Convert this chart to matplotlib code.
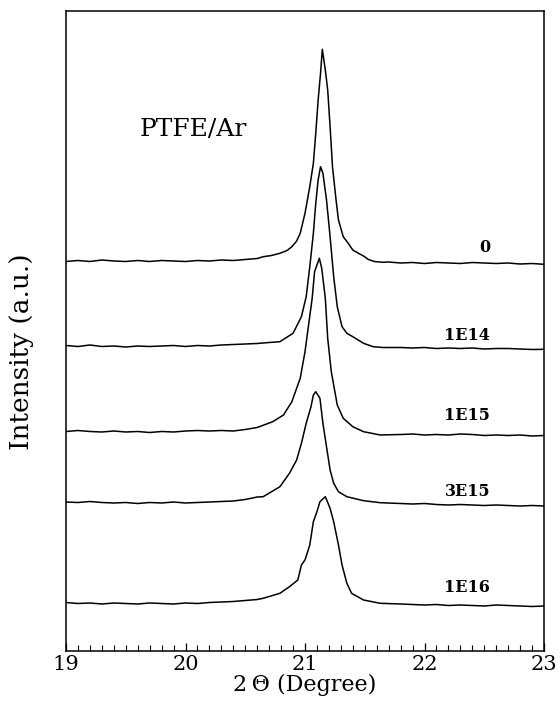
import matplotlib
matplotlib.use("Agg")
import matplotlib.pyplot as plt
from matplotlib.ticker import MultipleLocator

# ---- data (2-theta in degrees, intensity in arbitrary offset units) ----
x_0 = [19.0, 19.1, 19.2, 19.3, 19.4, 19.5, 19.6, 19.7, 19.8, 19.9, 20.0, 20.1, 20.2, 20.3, 20.4, 20.5,
       20.6, 20.65, 20.72, 20.79, 20.85, 20.89, 20.93, 20.96, 21.00, 21.04, 21.07, 21.09, 21.11, 21.13,
       21.145, 21.17, 21.19, 21.21, 21.23, 21.26, 21.28, 21.32, 21.36, 21.40, 21.45, 21.49, 21.53, 21.58,
       21.65, 21.7, 21.8, 21.9, 22.0, 22.1, 22.2, 22.3, 22.4, 22.5, 22.6, 22.7, 22.8, 22.9, 23.0]
y_0 = [389.5, 390.5, 389.5, 391.0, 390.0, 389.5, 390.5, 389.5, 390.5, 390.0, 389.5, 390.5, 390.0, 391.0,
       390.5, 391.5, 392.5, 394.3, 395.5, 397.7, 400.5, 404.3, 410.0, 417.7, 437.7, 464.3, 487.7, 517.7,
       551.0, 577.7, 601.7, 581.0, 561.0, 524.3, 484.3, 451.0, 431.0, 414.3, 408.0, 401.0, 397.5, 395.0,
       391.5, 389.5, 388.7, 389.0, 388.0, 388.5, 387.5, 388.5, 388.0, 387.5, 388.5, 388.0, 387.5, 388.0,
       387.0, 387.5, 386.7]

x_1e14 = [19.0, 19.1, 19.2, 19.3, 19.4, 19.5, 19.6, 19.7, 19.8, 19.9, 20.0, 20.1, 20.2, 20.3, 20.4, 20.5,
          20.6, 20.7, 20.79, 20.9, 20.97, 21.01, 21.04, 21.07, 21.09, 21.11, 21.13, 21.15, 21.18, 21.21,
          21.24, 21.27, 21.31, 21.35, 21.40, 21.49, 21.57, 21.65, 21.8, 21.9, 22.0, 22.1, 22.2, 22.3, 22.4,
          22.5, 22.6, 22.7, 22.8, 22.9, 23.0]
y_1e14 = [305.5, 304.5, 306.0, 304.5, 305.0, 304.0, 305.0, 304.5, 305.0, 305.5, 304.5, 305.5, 305.0, 306.0,
          306.5, 307.0, 307.5, 308.5, 309.3, 317.7, 334.3, 354.3, 384.3, 417.7, 447.7, 471.0, 484.3, 477.7,
          451.0, 414.3, 374.3, 344.3, 324.3, 317.7, 314.3, 307.7, 304.3, 303.5, 303.5, 303.0, 303.5, 302.5,
          303.0, 302.5, 303.0, 302.0, 302.5, 302.5, 302.0, 301.5, 301.7]

x_1e15 = [19.0, 19.1, 19.2, 19.3, 19.4, 19.5, 19.6, 19.7, 19.8, 19.9, 20.0, 20.1, 20.2, 20.3, 20.4, 20.5,
          20.6, 20.73, 20.82, 20.89, 20.96, 21.00, 21.03, 21.06, 21.08, 21.12, 21.14, 21.17, 21.19, 21.22,
          21.27, 21.32, 21.40, 21.49, 21.63, 21.8, 21.9, 22.0, 22.1, 22.2, 22.3, 22.4, 22.5, 22.6, 22.7,
          22.8, 22.9, 23.0]
y_1e15 = [219.5, 220.5, 219.5, 219.0, 220.0, 219.0, 219.5, 218.5, 219.5, 219.0, 220.0, 220.5, 220.0, 220.5,
          220.0, 221.5, 223.5, 229.3, 236.0, 249.3, 272.7, 299.3, 326.0, 352.7, 379.3, 392.7, 382.7, 352.7,
          312.7, 279.3, 246.0, 232.7, 224.3, 219.3, 216.0, 216.5, 217.0, 216.0, 216.5, 216.0, 217.0, 216.5,
          215.5, 216.0, 215.5, 216.0, 215.0, 215.5]

x_3e15 = [19.0, 19.1, 19.2, 19.3, 19.4, 19.5, 19.6, 19.7, 19.8, 19.9, 20.0, 20.1, 20.2, 20.3, 20.4, 20.5,
          20.6, 20.65, 20.79, 20.87, 20.93, 20.97, 21.01, 21.05, 21.07, 21.09, 21.125, 21.15, 21.18, 21.21,
          21.24, 21.28, 21.35, 21.49, 21.63, 21.8, 21.9, 22.0, 22.1, 22.2, 22.3, 22.4, 22.5, 22.6, 22.7,
          22.8, 22.9, 23.0]
y_3e15 = [149.0, 148.5, 149.5, 148.5, 148.0, 148.5, 147.5, 148.5, 148.0, 149.0, 148.0, 148.5, 149.0, 149.5,
          150.0, 151.5, 154.0, 154.3, 164.3, 177.7, 191.0, 207.7, 227.7, 244.3, 256.0, 259.3, 252.7, 227.7,
          204.3, 181.0, 167.7, 159.3, 154.3, 150.3, 148.3, 147.5, 147.0, 147.5, 146.5, 146.0, 146.5, 146.0,
          145.5, 146.0, 145.5, 145.0, 145.5, 145.0]

x_1e16 = [19.0, 19.1, 19.2, 19.3, 19.4, 19.5, 19.6, 19.7, 19.8, 19.9, 20.0, 20.1, 20.2, 20.3, 20.4, 20.5,
          20.6, 20.65, 20.79, 20.87, 20.94, 20.97, 21.00, 21.04, 21.07, 21.10, 21.125, 21.17, 21.21, 21.24,
          21.28, 21.31, 21.35, 21.39, 21.49, 21.63, 21.8, 21.9, 22.0, 22.1, 22.2, 22.3, 22.4, 22.5, 22.6,
          22.7, 22.8, 22.9, 23.0]
y_1e16 = [48.5, 47.5, 48.0, 47.0, 48.0, 47.5, 47.0, 48.0, 47.5, 47.0, 48.0, 47.5, 48.5, 49.0, 49.5, 50.5,
          51.5, 52.7, 57.7, 64.3, 71.0, 86.0, 91.0, 106.0, 129.3, 139.3, 149.3, 154.3, 142.7, 129.3, 106.0,
          86.0, 67.7, 57.7, 51.0, 47.7, 47.0, 46.5, 46.0, 46.5, 45.5, 46.0, 45.5, 45.0, 46.0, 45.5, 45.0,
          44.5, 45.0]

labels = ["0", "1E14", "1E15", "3E15", "1E16"]
label_y = [404, 316, 235, 159, 64]
xticks = [19, 20, 21, 22, 23]

# ---- figure ----
fig = plt.figure(figsize=(5.6, 7.11), dpi=100)
ax = fig.add_axes([66 / 560, 60 / 711, 478 / 560, 640 / 711])

series_x = [x_0, x_1e14, x_1e15, x_3e15, x_1e16]
series_y = [y_0, y_1e14, y_1e15, y_3e15, y_1e16]
for xs, ys in zip(series_x, series_y):
    ax.plot(xs, ys, color="black", lw=1.1)

for lab, ly in zip(labels, label_y):
    ax.text(22.55, ly, lab, ha="right", va="center", fontsize=11.5,
            fontweight="bold", family="DejaVu Serif")

ax.text(19.62, 521, "PTFE/Ar", ha="left", va="center", fontsize=18, family="DejaVu Serif")

ax.set_xlim(19, 23)
ax.set_ylim(0, 640)
ax.set_xticks(xticks)
ax.set_xticklabels([str(t) for t in xticks], family="DejaVu Serif", fontsize=15)
ax.xaxis.set_minor_locator(MultipleLocator(0.1))
ax.tick_params(axis="x", which="major", direction="in", length=6, width=0.9, pad=3, top=False)
ax.tick_params(axis="x", which="minor", direction="in", length=4, width=0.8, top=False)
ax.set_yticks([])
for s in ax.spines.values():
    s.set_linewidth(1.1)

ax.set_xlabel("2\u2009\u0398 (Degree)", family="DejaVu Serif", fontsize=16, labelpad=0)
fig.text(22 / 560, 0.505, "Intensity (a.u.)", rotation=90, ha="center", va="center",
         family="DejaVu Serif", fontsize=19)

fig.savefig("out.png", dpi=100)
